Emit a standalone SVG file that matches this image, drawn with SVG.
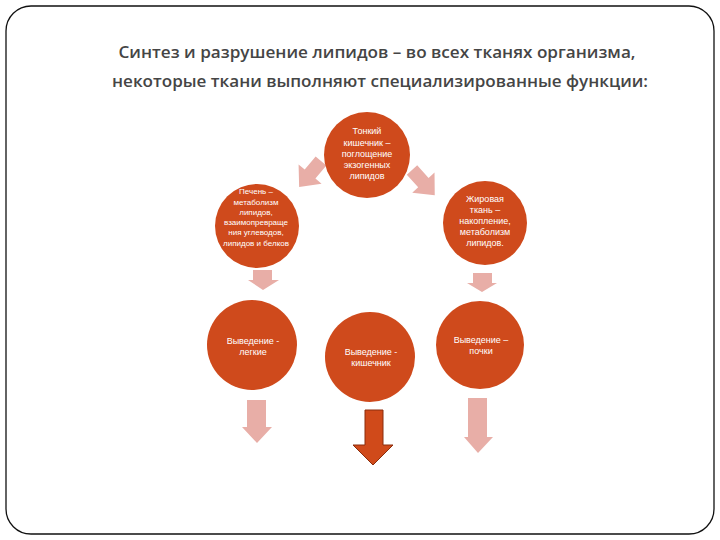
<svg xmlns="http://www.w3.org/2000/svg" width="720" height="540" viewBox="0 0 720 540">
<style>
.node{fill:#CF4A1C}
.nt{font-family:"Liberation Sans",Arial,sans-serif;font-size:8px;fill:#ffffff;text-anchor:middle}
.nt9{font-family:"Liberation Sans",Arial,sans-serif;font-size:9px;fill:#ffffff;text-anchor:middle}
.light{fill:#E8AEA7}
.dark{fill:#D04A1A;stroke:#8A2D0C;stroke-width:1}
.title{font-family:"Open Sans","Liberation Sans",sans-serif;font-weight:600;font-size:17px;fill:#454545;text-anchor:middle}
</style>
<defs>
<path id="diag" d="M0,-7 L17,-7 L17,-15 L34,0 L17,15 L17,7 L0,7 Z"/>
</defs>
<rect x="6" y="6" width="708" height="528" rx="25" ry="25" fill="#ffffff" stroke="#111" stroke-width="1.3"/>
<g id="title">
<text class="title" x="377" y="58" textLength="517" lengthAdjust="spacingAndGlyphs">Синтез и разрушение липидов – во всех  тканях организма,</text>
<text class="title" x="380" y="87" textLength="536" lengthAdjust="spacingAndGlyphs">некоторые ткани выполняют специализированные функции:</text>
</g>
<g id="connectors">
<use href="#diag" class="light" transform="translate(321,161) rotate(130)"/>
<use href="#diag" class="light" transform="translate(412,170) rotate(48)"/>
<path class="light" d="M253,270 L272,270 L272,280 L279,280 L263,290 L248,280 L253,280 Z"/>
<path class="light" d="M473,273 L492,273 L492,283 L497,283 L482,292 L467,283 L473,283 Z"/>
<path class="light" d="M247,400 L266,400 L266,427 L272,427 L257,443 L242,427 L247,427 Z"/>
<path class="dark" d="M365,410 L383,410 L383,445 L393,445 L373,465 L353,445 L365,445 Z"/>
<path class="light" d="M468,398 L487,398 L487,437 L493,437 L478,453 L464,437 L468,437 Z"/>
</g>
<g id="node-intestine">
<circle class="node" cx="367" cy="155" r="43"/>
<text class="nt9" x="367" y="134">Тонкий</text>
<text class="nt9" x="367" y="146">кишечник –</text>
<text class="nt9" x="367" y="157">поглощение</text>
<text class="nt9" x="367" y="168">экзогенных</text>
<text class="nt9" x="367" y="179">липидов</text>
</g>
<g id="node-liver">
<circle class="node" cx="257" cy="226" r="42"/>
<text class="nt" x="256" y="194">Печень –</text>
<text class="nt" x="256" y="205">метаболизм</text>
<text class="nt" x="256" y="215">липидов,</text>
<text class="nt" x="256" y="225">взаимопревраще</text>
<text class="nt" x="256" y="235">ния углеводов,</text>
<text class="nt" x="256" y="246">липидов и белков</text>
</g>
<g id="node-fat">
<circle class="node" cx="485" cy="223" r="42"/>
<text class="nt9" x="485" y="202">Жировая</text>
<text class="nt9" x="485" y="213">ткань –</text>
<text class="nt9" x="485" y="224">накопление,</text>
<text class="nt9" x="485" y="235">метаболизм</text>
<text class="nt9" x="485" y="246">липидов.</text>
</g>
<g id="node-lungs">
<circle class="node" cx="252" cy="345" r="45"/>
<text class="nt9" x="253" y="344">Выведение -</text>
<text class="nt9" x="253" y="355">легкие</text>
</g>
<g id="node-gut">
<circle class="node" cx="370" cy="357" r="45"/>
<text class="nt9" x="371" y="355">Выведение -</text>
<text class="nt9" x="371" y="366">кишечник</text>
</g>
<g id="node-kidneys">
<circle class="node" cx="480" cy="345" r="44"/>
<text class="nt9" x="481" y="343">Выведение –</text>
<text class="nt9" x="481" y="354">почки</text>
</g>
</svg>
